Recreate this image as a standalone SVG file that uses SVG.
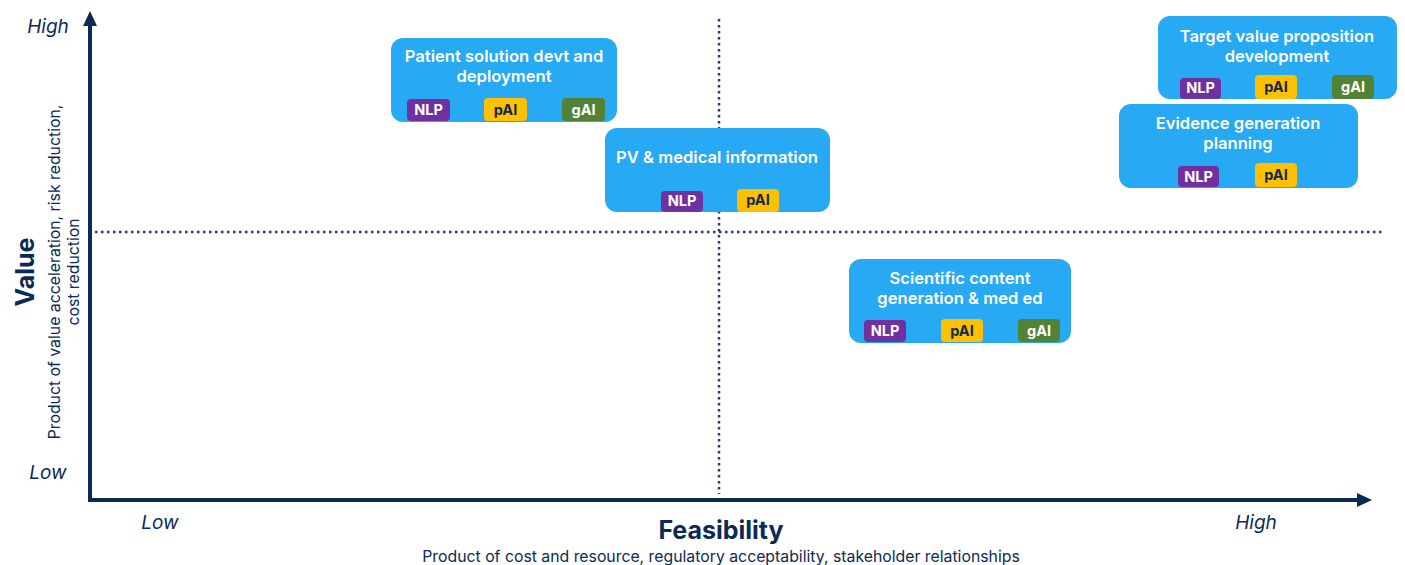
<svg xmlns="http://www.w3.org/2000/svg" width="1405" height="565" viewBox="0 0 1405 565">
  <style>
    .axis { stroke: #0b2a55; stroke-width: 4; fill: none; }
    .grid { stroke: #1f3f74; stroke-width: 2.5; stroke-dasharray: 2.5 3.5; fill: none; }
    .lvl { font-family: Inter, "Liberation Sans", sans-serif; font-style: italic; font-size: 19px; fill: #0b2a55; }
    .title { font-family: Inter, "Liberation Sans", sans-serif; font-weight: 700; font-size: 25px; fill: #0b2a55; text-anchor: middle; }
    .sub { font-family: Inter, "Liberation Sans", sans-serif; font-size: 15.8px; fill: #0b2a55; text-anchor: middle; }
    .box { fill: #27a9f3; }
    .btxt { font-family: Inter, "Liberation Sans", sans-serif; font-weight: 600; font-size: 16.6px; fill: #ffffff; text-anchor: middle; }
    .tag { font-family: Inter, "Liberation Sans", sans-serif; font-weight: 700; font-size: 14.5px; text-anchor: middle; }
    .nlp { fill: #7030a0; }
    .pai { fill: #ffc000; }
    .gai { fill: #548235; }
    .lt { fill: #ffffff; }
    .dk { fill: #0b2a55; }
  </style>

  <!-- quadrant dividers -->
  <g id="dividers">
    <line class="grid" x1="719" y1="19" x2="719" y2="494"/>
    <line class="grid" x1="95" y1="232" x2="1382" y2="232"/>
  </g>

  <!-- axes -->
  <g id="axes">
    <path class="axis" d="M90,500 L90,26"/>
    <path d="M83,26 L90,11 L97,26 Z" fill="#0b2a55"/>
    <path class="axis" d="M88,500 L1358,500"/>
    <path d="M1357,493 L1372,500 L1357,507 Z" fill="#0b2a55"/>
  </g>

  <!-- axis labels -->
  <g id="labels">
    <text class="lvl" x="48" y="33" text-anchor="middle">High</text>
    <text class="lvl" x="48" y="479" text-anchor="middle">Low</text>
    <text class="lvl" x="160" y="529" text-anchor="middle">Low</text>
    <text class="lvl" x="1256" y="529" text-anchor="middle">High</text>
    <text class="title" x="721" y="539">Feasibility</text>
    <text class="sub" x="721" y="562">Product of cost and resource, regulatory acceptability, stakeholder relationships</text>
    <text class="title" transform="translate(34,272) rotate(-90)">Value</text>
    <text class="sub" transform="translate(60,272) rotate(-90)">Product of value acceleration, risk reduction,</text>
    <text class="sub" transform="translate(79,272) rotate(-90)">cost reduction</text>
  </g>

  <!-- use-case nodes -->
  <g id="node-patient">
    <rect class="box" x="391" y="38" width="226" height="84" rx="12"/>
    <text class="btxt" x="504" y="62">Patient solution devt and</text>
    <text class="btxt" x="504" y="82">deployment</text>
    <rect class="nlp" x="407" y="99" width="43" height="22" rx="4"/>
    <text class="tag lt" x="428.5" y="115">NLP</text>
    <rect class="pai" x="484" y="98" width="43" height="23" rx="4"/>
    <text class="tag dk" x="505.5" y="115">pAI</text>
    <rect class="gai" x="562" y="98" width="43" height="23" rx="4"/>
    <text class="tag lt" x="583.5" y="115">gAI</text>
  </g>

  <g id="node-pv">
    <rect class="box" x="605" y="128" width="225" height="84" rx="12"/>
    <text class="btxt" x="717" y="163">PV &amp; medical information</text>
    <rect class="nlp" x="661" y="191" width="42" height="21" rx="4"/>
    <text class="tag lt" x="682" y="206">NLP</text>
    <rect class="pai" x="737" y="189" width="42" height="23" rx="4"/>
    <text class="tag dk" x="758" y="205">pAI</text>
  </g>

  <g id="node-target">
    <rect class="box" x="1158" y="16" width="239" height="83" rx="12"/>
    <text class="btxt" x="1277" y="42">Target value proposition</text>
    <text class="btxt" x="1277" y="62">development</text>
    <rect class="nlp" x="1180" y="78" width="41" height="21" rx="4"/>
    <text class="tag lt" x="1200.5" y="93">NLP</text>
    <rect class="pai" x="1255" y="75" width="42" height="24" rx="4"/>
    <text class="tag dk" x="1276" y="92">pAI</text>
    <rect class="gai" x="1332" y="75" width="42" height="24" rx="4"/>
    <text class="tag lt" x="1353" y="92">gAI</text>
  </g>

  <g id="node-evidence">
    <rect class="box" x="1119" y="104" width="239" height="84" rx="12"/>
    <text class="btxt" x="1238" y="129">Evidence generation</text>
    <text class="btxt" x="1238" y="149">planning</text>
    <rect class="nlp" x="1178" y="166" width="41" height="21" rx="4"/>
    <text class="tag lt" x="1198.5" y="182">NLP</text>
    <rect class="pai" x="1255" y="163" width="42" height="24" rx="4"/>
    <text class="tag dk" x="1276" y="180">pAI</text>
  </g>

  <g id="node-scientific">
    <rect class="box" x="849" y="259" width="222" height="84" rx="12"/>
    <text class="btxt" x="960" y="284">Scientific content</text>
    <text class="btxt" x="960" y="304">generation &amp; med ed</text>
    <rect class="nlp" x="864" y="320" width="42" height="22" rx="4"/>
    <text class="tag lt" x="885" y="336">NLP</text>
    <rect class="pai" x="941" y="319" width="42" height="23" rx="4"/>
    <text class="tag dk" x="962" y="336">pAI</text>
    <rect class="gai" x="1018" y="319" width="42" height="23" rx="4"/>
    <text class="tag lt" x="1039" y="336">gAI</text>
  </g>
</svg>
